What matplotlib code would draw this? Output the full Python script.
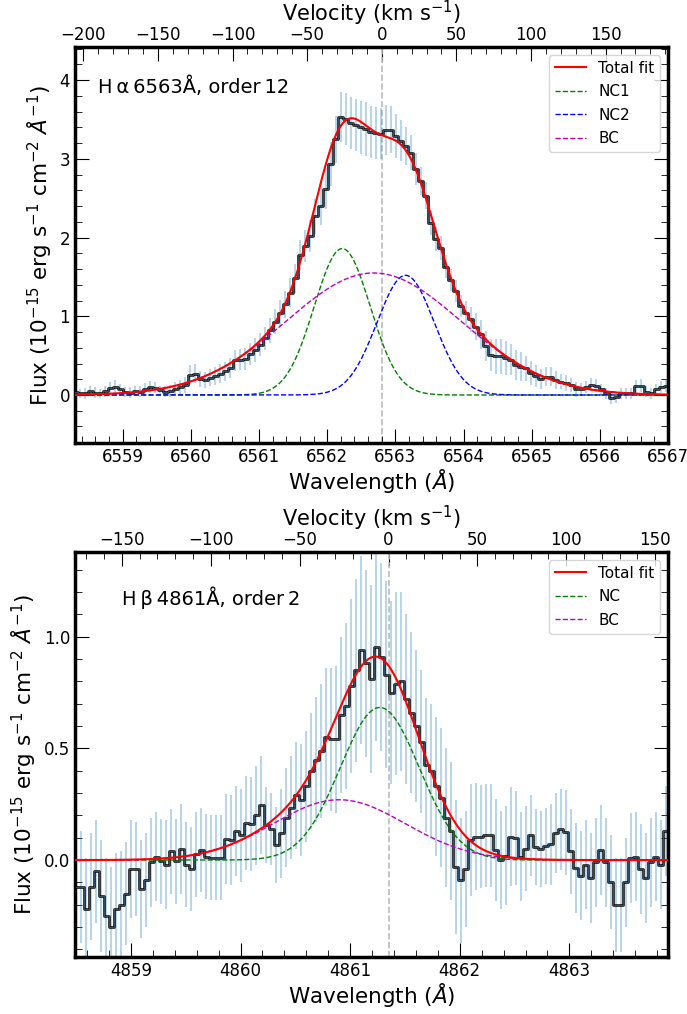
import numpy as np
import matplotlib
matplotlib.use('Agg')
import matplotlib.pyplot as plt
from matplotlib.ticker import MultipleLocator, FixedLocator

plt.rcParams['xtick.direction'] = 'in'
plt.rcParams['ytick.direction'] = 'in'
plt.rcParams['xtick.major.size'] = 10
plt.rcParams['ytick.major.size'] = 10
plt.rcParams['xtick.minor.size'] = 5
plt.rcParams['ytick.minor.size'] = 5
plt.rcParams['xtick.labelsize'] = 12
plt.rcParams['ytick.labelsize'] = 12
plt.rcParams['ytick.right'] = True

c_kms = 299792.458

# ---------------- H-alpha (order 12) ----------------
ha_rest = 6562.8
ha_vticks = [-200, -150, -100, -50, 0, 50, 100, 150]
ha_start, ha_step, ha_n = 6558.30, 0.0735, 119
ha_flux = [0.04, 0.02, 0.02, 0.05, 0.03, 0.02, 0.05, 0.09, 0.10, 0.07,
           0.04, 0.03, 0.05, 0.04, 0.07, 0.10, 0.09, 0.06, 0.04, 0.05,
           0.08, 0.10, 0.13, 0.26, 0.27, 0.20, 0.19, 0.22, 0.24, 0.27,
           0.30, 0.34, 0.44, 0.45, 0.46, 0.52, 0.57, 0.64, 0.72, 0.82,
           0.93, 1.04, 1.15, 1.30, 1.48, 1.78, 1.89, 2.02, 2.27, 2.40,
           2.62, 2.93, 3.25, 3.53, 3.50, 3.45, 3.43, 3.40, 3.38, 3.34,
           3.33, 3.32, 3.37, 3.37, 3.29, 3.23, 3.16, 3.08, 2.87, 2.72,
           2.53, 2.19, 1.98, 1.87, 1.63, 1.46, 1.32, 1.13, 1.04, 0.96,
           0.87, 0.77, 0.62, 0.51, 0.49, 0.49, 0.47, 0.45, 0.38, 0.36,
           0.34, 0.28, 0.24, 0.20, 0.23, 0.23, 0.19, 0.17, 0.15, 0.13,
           0.07, 0.07, 0.10, 0.13, 0.12, 0.07, 0.02, -0.04, -0.03, 0.02,
           0.02, 0.02, 0.11, 0.12, 0.04, 0.02, 0.07, 0.10, 0.12]
ha_err = [0.07, 0.06, 0.07, 0.06, 0.07, 0.06, 0.07, 0.08, 0.09, 0.07,
          0.06, 0.07, 0.06, 0.07, 0.08, 0.08, 0.07, 0.06, 0.07, 0.08,
          0.08, 0.09, 0.10, 0.12, 0.12, 0.10, 0.10, 0.11, 0.11, 0.12,
          0.12, 0.13, 0.13, 0.13, 0.14, 0.14, 0.15, 0.15, 0.15, 0.16,
          0.16, 0.17, 0.17, 0.18, 0.18, 0.19, 0.20, 0.20, 0.22, 0.24,
          0.26, 0.28, 0.30, 0.32, 0.33, 0.33, 0.33, 0.34, 0.34, 0.33,
          0.33, 0.32, 0.32, 0.30, 0.28, 0.26, 0.24, 0.22, 0.20, 0.18,
          0.17, 0.16, 0.15, 0.15, 0.15, 0.14, 0.14, 0.14, 0.15, 0.16,
          0.17, 0.18, 0.19, 0.20, 0.22, 0.22, 0.21, 0.20, 0.19, 0.18,
          0.16, 0.15, 0.14, 0.13, 0.12, 0.12, 0.11, 0.10, 0.10, 0.09,
          0.09, 0.08, 0.08, 0.08, 0.08, 0.07, 0.07, 0.07, 0.07, 0.07,
          0.07, 0.07, 0.08, 0.08, 0.07, 0.07, 0.07, 0.08, 0.08]
# gaussian components: (amplitude, centre, sigma)
ha_nc1 = (1.86, 6562.22, 0.41)
ha_nc2 = (1.52, 6563.15, 0.42)
ha_bc = (1.55, 6562.68, 1.28)

# ---------------- H-beta (order 2) ----------------
hb_rest = 4861.35
hb_vticks = [-150, -100, -50, 0, 50, 100, 150]
hb_start, hb_step, hb_n = 4858.50, 0.0456, 119
hb_flux = [-0.12, -0.12, -0.22, -0.12, -0.05, -0.16, -0.25, -0.30, -0.22, -0.20,
           -0.15, -0.04, -0.04, -0.13, -0.09, -0.01, 0.015, -0.005, -0.02, 0.04,
           -0.005, 0.05, -0.02, -0.04, 0.025, 0.045, 0.015, 0.01, 0.01, 0.01,
           0.095, 0.09, 0.13, 0.11, 0.165, 0.16, 0.20, 0.245, 0.155, 0.14,
           0.067, 0.12, 0.19, 0.235, 0.29, 0.27, 0.33, 0.40, 0.45, 0.49,
           0.55, 0.54, 0.54, 0.65, 0.69, 0.78, 0.85, 0.94, 0.88, 0.81,
           0.955, 0.91, 0.83, 0.75, 0.79, 0.80, 0.72, 0.66, 0.60, 0.53,
           0.425, 0.40, 0.33, 0.28, 0.19, 0.13, -0.03, -0.09, -0.04, 0.09,
           0.105, 0.105, 0.11, 0.11, 0.045, 0.0, 0.02, 0.105, 0.10, 0.015,
           0.05, 0.11, 0.06, 0.05, 0.065, 0.07, 0.12, 0.137, 0.125, 0.04,
           -0.035, -0.07, -0.02, -0.08, -0.01, 0.045, -0.01, -0.10, -0.20, -0.20,
           -0.10, 0.01, 0.015, -0.04, -0.08, -0.01, 0.015, -0.02, 0.13]
hb_err = [0.24, 0.25, 0.23, 0.24, 0.23, 0.25, 0.26, 0.27, 0.25, 0.24,
          0.23, 0.22, 0.21, 0.22, 0.21, 0.20, 0.20, 0.19, 0.20, 0.19,
          0.19, 0.20, 0.19, 0.19, 0.19, 0.19, 0.19, 0.19, 0.19, 0.19,
          0.20, 0.20, 0.20, 0.21, 0.21, 0.21, 0.22, 0.22, 0.17, 0.16,
          0.17, 0.20, 0.22, 0.23, 0.24, 0.25, 0.25, 0.26, 0.28, 0.30,
          0.31, 0.32, 0.33, 0.35, 0.37, 0.39, 0.41, 0.42, 0.42, 0.42,
          0.42, 0.42, 0.42, 0.41, 0.41, 0.40, 0.38, 0.36, 0.34, 0.32,
          0.30, 0.30, 0.31, 0.31, 0.31, 0.31, 0.30, 0.28, 0.26, 0.25,
          0.24, 0.23, 0.23, 0.23, 0.23, 0.22, 0.22, 0.22, 0.21, 0.20,
          0.19, 0.18, 0.17, 0.17, 0.17, 0.18, 0.18, 0.18, 0.19, 0.19,
          0.20, 0.20, 0.20, 0.20, 0.20, 0.20, 0.20, 0.21, 0.21, 0.21,
          0.20, 0.20, 0.20, 0.20, 0.20, 0.20, 0.20, 0.20, 0.20]
hb_nc = (0.683, 4861.27, 0.36)
hb_bc = (0.27, 4860.90, 0.60)


def gauss(x, p):
    a, mu, s = p
    return a*np.exp(-0.5*((x-mu)/s)**2)


def style_axes(ax, xlim, ylim, ymaj, ymin, rest, vticks):
    ax.set_xlim(xlim)
    ax.set_ylim(ylim)
    ax.xaxis.set_major_locator(MultipleLocator(1))
    ax.xaxis.set_minor_locator(MultipleLocator(0.2))
    ax.yaxis.set_major_locator(MultipleLocator(ymaj))
    ax.yaxis.set_minor_locator(MultipleLocator(ymin))
    for sp in ax.spines.values():
        sp.set_linewidth(2.5)
    ax.set_xlabel(r'Wavelength ($\AA$)', fontsize=15.5, labelpad=1)
    ax.set_ylabel(r'Flux ($10^{-15}$ erg s$^{-1}$ cm$^{-2}$ $\AA^{-1}$)', fontsize=15.5)
    sec = ax.secondary_xaxis('top', functions=(lambda w: (w-rest)/rest*c_kms,
                                               lambda v: rest*(1+v/c_kms)))
    sec.xaxis.set_major_locator(FixedLocator(vticks))
    vmin = [v for v in range(vticks[0]-50, vticks[-1]+60, 10) if v not in vticks]
    sec.xaxis.set_minor_locator(FixedLocator(vmin))
    sec.tick_params(axis='x', which='both', pad=2.5)
    sec.set_xlabel(r'Velocity (km s$^{-1}$)', fontsize=15, labelpad=3.2)
    ax.axvline(rest, color='#bbbbbb', ls='--', lw=1.2, zorder=1)


def draw_spec(ax, wl, flux, err):
    ax.errorbar(wl, flux, yerr=err, fmt='none', ecolor='#1f77b4', alpha=0.3, elinewidth=1.5, zorder=2)
    ax.step(wl, flux, where='mid', color='k', lw=1.8, zorder=3)
    ax.step(wl, flux, where='mid', color='#5f8fb5', lw=0.4, zorder=3)


fig = plt.figure(figsize=(6.87, 10.14), dpi=100)

# top panel
ax1 = fig.add_axes([0.1092, 0.5631, 0.8632, 0.3905])
wl1 = ha_start + ha_step*np.arange(ha_n)
draw_spec(ax1, wl1, ha_flux, ha_err)
xm1 = np.linspace(6558.0, 6567.5, 1500)
ax1.plot(xm1, gauss(xm1, ha_nc1)+gauss(xm1, ha_nc2)+gauss(xm1, ha_bc), 'r-', lw=1.5, label='Total fit', zorder=5)
ax1.plot(xm1, gauss(xm1, ha_nc1), 'g--', lw=1, label='NC1', zorder=4)
ax1.plot(xm1, gauss(xm1, ha_nc2), 'b--', lw=1, label='NC2', zorder=4)
ax1.plot(xm1, gauss(xm1, ha_bc), 'm--', lw=1, label='BC', zorder=4)
style_axes(ax1, (6558.30, 6567.0), (-0.61, 4.42), 1, 0.2, ha_rest, ha_vticks)
ax1.text(0.039, 0.899, 'H\u2009\u03b1\u20096563\u00c5, order\u200912', transform=ax1.transAxes,
         fontsize=14, va='center')
ax1.legend(loc='upper right', fontsize=11, labelspacing=0.55)

# bottom panel
ax2 = fig.add_axes([0.1092, 0.0562, 0.8632, 0.3994])
wl2 = hb_start + hb_step*np.arange(hb_n)
draw_spec(ax2, wl2, hb_flux, hb_err)
xm2 = np.linspace(4858.0, 4864.5, 1500)
ax2.plot(xm2, gauss(xm2, hb_nc)+gauss(xm2, hb_bc), 'r-', lw=1.5, label='Total fit', zorder=5)
ax2.plot(xm2, gauss(xm2, hb_nc), 'g--', lw=1, label='NC', zorder=4)
ax2.plot(xm2, gauss(xm2, hb_bc), 'm--', lw=1, label='BC', zorder=4)
style_axes(ax2, (4858.49, 4863.90), (-0.434, 1.379), 0.5, 0.1, hb_rest, hb_vticks)
ax2.text(0.079, 0.886, 'H\u2009\u03b2\u20094861\u00c5, order\u20092', transform=ax2.transAxes,
         fontsize=14, va='center')
ax2.legend(loc='upper right', fontsize=11, labelspacing=0.55)

fig.savefig('out.png', dpi=100)
